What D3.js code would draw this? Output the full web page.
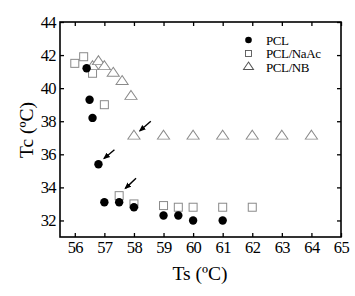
<!DOCTYPE html>
<html><head><meta charset="utf-8">
<script src="https://cdn.jsdelivr.net/npm/d3@7"></script>
<style>body{margin:0;background:#fff;}svg{display:block;}</style>
</head><body>
<svg id="c" width="355" height="296"></svg>
<script>
const pclTs = [56.4, 56.5, 56.6, 56.8, 57.0, 57.5, 58.0, 59.0, 59.5, 60.0, 61.0];
const pclTc = [41.2, 39.3, 38.2, 35.4, 33.1, 33.1, 32.8, 32.3, 32.3, 32.0, 32.0];
const naacTs = [56.0, 56.3, 56.6, 57.0, 57.5, 58.0, 59.0, 59.5, 60.0, 61.0, 62.0];
const naacTc = [41.5, 41.9, 40.9, 39.0, 33.5, 33.0, 32.9, 32.8, 32.8, 32.8, 32.8];
const nbTs = [56.6, 56.8, 57.0, 57.3, 57.6, 57.9, 58.0, 59.0, 60.0, 61.0, 62.0, 63.0, 64.0];
const nbTc = [41.3, 41.6, 41.3, 40.9, 40.4, 39.5, 37.1, 37.1, 37.1, 37.1, 37.1, 37.1, 37.1];
const xTicks = [56, 57, 58, 59, 60, 61, 62, 63, 64, 65];
const yTicks = [32, 34, 36, 38, 40, 42, 44];
const legendLabels = ["PCL", "PCL/NaAc", "PCL/NB"];
// arrows: [x1, y1, x2, y2] in data units (tail -> head)
const arrows = [[58.57, 38.0, 58.2, 37.42], [57.34, 36.28, 56.99, 35.75], [58.07, 34.55, 57.71, 33.94]];

(function () {
const svg = d3.select("#c");
const L = 60, R = 341, T = 22, B = 237;
const x = d3.scaleLinear().domain([55.5, 65]).range([L, R]);
const y = d3.scaleLinear().domain([31, 44]).range([B, T]);
const font = "'Liberation Serif','Times New Roman',serif";

svg.append("defs").append("marker").attr("id", "ah").attr("viewBox", "0 0 10 10")
  .attr("refX", 8).attr("refY", 5).attr("markerWidth", 5).attr("markerHeight", 5)
  .attr("orient", "auto").append("path").attr("d", "M0,1 L10,5 L0,9 Z").attr("fill", "#000");

const tl = 4;
const gB = svg.append("g").attr("transform", `translate(0,${B})`)
  .call(d3.axisBottom(x).tickValues(xTicks).tickSize(-tl).tickPadding(4).tickFormat(d3.format("d")));
const gT = svg.append("g").attr("transform", `translate(0,${T})`)
  .call(d3.axisTop(x).tickValues(xTicks).tickSize(-tl).tickFormat(""));
const gL = svg.append("g").attr("transform", `translate(${L},0)`)
  .call(d3.axisLeft(y).tickValues(yTicks).tickSize(-tl).tickPadding(4).tickFormat(d3.format("d")));
const gR = svg.append("g").attr("transform", `translate(${R},0)`)
  .call(d3.axisRight(y).tickValues(yTicks).tickSize(-tl).tickFormat(""));
[gB, gT, gL, gR].forEach(g => {
  g.select(".domain").remove();
  g.selectAll(".tick line").attr("stroke", "#000").attr("stroke-width", 1.3);
  g.selectAll("text").attr("font-family", font).attr("font-size", 16.5).attr("letter-spacing", -0.6).attr("fill", "#000");
});
svg.append("rect").attr("x", L).attr("y", T).attr("width", R - L).attr("height", B - T)
  .attr("fill", "none").attr("stroke", "#000").attr("stroke-width", 1.6);

svg.append("text").attr("x", 200).attr("y", 280).attr("text-anchor", "middle")
  .attr("font-family", font).attr("font-size", 19.5).text("Ts (ºC)");
svg.append("text").attr("transform", "translate(33,130) rotate(-90)").attr("text-anchor", "middle")
  .attr("font-family", font).attr("font-size", 19.5).text("Tc (ºC)");

const gray = "#8a8a8a";
const tri = d3.symbol().type(d3.symbolTriangle).size(38);
svg.append("g").selectAll("rect").data(naacTs.map((t, i) => [t, naacTc[i]])).join("rect")
  .attr("x", d => x(d[0]) - 4).attr("y", d => y(d[1]) - 4).attr("width", 8).attr("height", 8)
  .attr("fill", "#fff").attr("stroke", gray).attr("stroke-width", 1);
svg.append("g").selectAll("path").data(nbTs.map((t, i) => [t, nbTc[i]])).join("path")
  .attr("d", tri).attr("transform", d => `translate(${x(d[0])},${y(d[1])}) scale(1.3,1.1)`)
  .attr("fill", "#fff").attr("stroke", gray).attr("stroke-width", 0.8);
svg.append("g").selectAll("circle").data(pclTs.map((t, i) => [t, pclTc[i]])).join("circle")
  .attr("cx", d => x(d[0])).attr("cy", d => y(d[1])).attr("r", 4.2).attr("fill", "#000");

svg.append("g").selectAll("line").data(arrows).join("line")
  .attr("x1", d => x(d[0])).attr("y1", d => y(d[1])).attr("x2", d => x(d[2])).attr("y2", d => y(d[3]))
  .attr("stroke", "#000").attr("stroke-width", 1.4).attr("marker-end", "url(#ah)");

const lg = svg.append("g");
const ly = [40, 53.5, 67];
lg.append("circle").attr("cx", 248.5).attr("cy", ly[0]).attr("r", 3.3).attr("fill", "#000");
lg.append("rect").attr("x", 245.5).attr("y", ly[1] - 3).attr("width", 6).attr("height", 6)
  .attr("fill", "#fff").attr("stroke", "#555").attr("stroke-width", 0.9);
lg.append("path").attr("d", d3.symbol().type(d3.symbolTriangle).size(26))
  .attr("transform", `translate(248.5,${ly[2]}) scale(1.3,1.1)`)
  .attr("fill", "#fff").attr("stroke", "#555").attr("stroke-width", 0.8);
lg.selectAll("text").data(legendLabels).join("text")
  .attr("x", 266).attr("y", (d, i) => ly[i] + 4.5)
  .attr("font-family", font).attr("font-size", 13).attr("letter-spacing", -0.4).text(d => d);
})();
</script>
</body></html>
